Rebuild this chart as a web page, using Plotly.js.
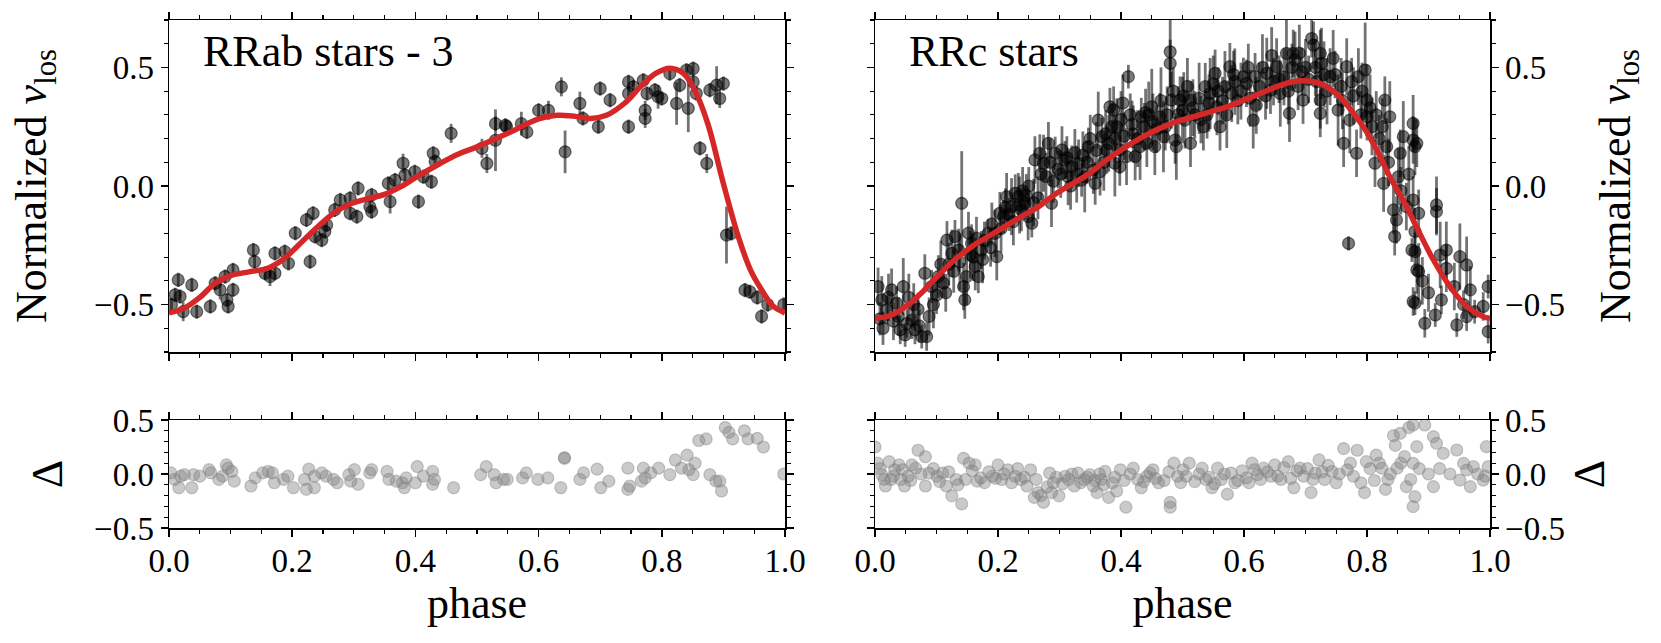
<!DOCTYPE html>
<html>
<head>
<meta charset="utf-8">
<script src="https://cdn.plot.ly/plotly-3.0.1.min.js"></script>
<style>html,body{margin:0;padding:0;background:#fff;}#chart{width:1661px;height:643px;}</style>
</head>
<body>
<div id="chart"></div>
<script>
// ---------- RRab stars - 3 : [phase, v_los, error] ----------
const rrabPoints = [
[0.004,-0.501,0.03],[0.010,-0.459,0.03],[0.015,-0.396,0.03],[0.018,-0.466,0.03],[0.023,-0.530,0.04],
[0.037,-0.417,0.03],[0.045,-0.530,0.03],[0.067,-0.508,0.03],[0.075,-0.410,0.03],[0.083,-0.438,0.04],
[0.091,-0.382,0.03],[0.094,-0.480,0.03],[0.096,-0.508,0.03],[0.104,-0.438,0.03],[0.104,-0.354,0.03],
[0.137,-0.270,0.03],[0.139,-0.319,0.03],[0.156,-0.368,0.03],[0.164,-0.382,0.04],[0.172,-0.368,0.03],
[0.172,-0.284,0.03],[0.188,-0.277,0.03],[0.194,-0.326,0.03],[0.205,-0.199,0.03],[0.223,-0.143,0.03],
[0.234,-0.115,0.03],[0.229,-0.319,0.03],[0.237,-0.213,0.03],[0.248,-0.228,0.03],[0.253,-0.192,0.03],
[0.256,-0.164,0.03],[0.269,-0.101,0.03],[0.278,-0.059,0.03],[0.294,-0.052,0.03],[0.294,-0.115,0.03],
[0.305,-0.129,0.03],[0.307,-0.010,0.03],[0.326,-0.087,0.03],[0.329,-0.038,0.03],[0.329,-0.108,0.03],
[0.356,0.011,0.03],[0.359,-0.066,0.05],[0.367,0.025,0.03],[0.380,0.096,0.04],[0.383,0.046,0.03],
[0.399,0.060,0.03],[0.405,-0.066,0.03],[0.413,0.039,0.03],[0.426,0.018,0.03],[0.429,0.138,0.03],
[0.432,0.103,0.03],[0.458,0.222,0.04],[0.508,0.159,0.04],[0.516,0.095,0.04],[0.530,0.193,0.13],
[0.530,0.263,0.03],[0.546,0.256,0.03],[0.548,0.250,0.03],[0.572,0.263,0.05],[0.581,0.228,0.03],
[0.600,0.319,0.03],[0.616,0.319,0.04],[0.637,0.418,0.04],[0.643,0.144,0.09],[0.667,0.348,0.05],
[0.672,0.285,0.03],[0.697,0.250,0.03],[0.700,0.411,0.03],[0.716,0.362,0.03],[0.746,0.439,0.03],
[0.746,0.250,0.03],[0.746,0.390,0.03],[0.754,0.418,0.03],[0.770,0.446,0.03],[0.773,0.319,0.04],
[0.773,0.285,0.04],[0.776,0.390,0.03],[0.789,0.404,0.03],[0.794,0.376,0.05],[0.800,0.369,0.03],
[0.813,0.474,0.03],[0.824,0.348,0.09],[0.829,0.425,0.03],[0.840,0.488,0.03],[0.843,0.327,0.10],
[0.851,0.495,0.03],[0.851,0.439,0.03],[0.856,0.390,0.03],[0.862,0.159,0.03],[0.873,0.095,0.04],
[0.878,0.404,0.03],[0.889,0.425,0.08],[0.894,0.369,0.04],[0.900,0.432,0.03],[0.905,-0.207,0.12],
[0.913,-0.200,0.03],[0.935,-0.439,0.03],[0.943,-0.446,0.03],[0.955,-0.470,0.03],[0.962,-0.550,0.03],
[0.972,-0.500,0.03],[0.998,-0.500,0.03]
];
// model curve [phase, v]
const rrabModel = [
[0,-0.535],[0.025,-0.515],[0.05,-0.47],[0.075,-0.41],[0.1,-0.378],[0.13,-0.362],[0.16,-0.347],
[0.185,-0.31],[0.21,-0.25],[0.24,-0.175],[0.27,-0.11],[0.295,-0.075],[0.32,-0.055],[0.35,-0.035],
[0.375,-0.005],[0.4,0.035],[0.44,0.095],[0.47,0.135],[0.5,0.165],[0.55,0.222],[0.6,0.283],
[0.63,0.298],[0.655,0.295],[0.685,0.285],[0.71,0.298],[0.74,0.35],[0.765,0.418],[0.79,0.475],
[0.813,0.497],[0.835,0.475],[0.855,0.395],[0.875,0.26],[0.9,0.01],[0.925,-0.22],[0.945,-0.36],
[0.965,-0.45],[0.98,-0.505],[1.0,-0.535]
];
// residuals [phase, delta]
const rrabResid = [
[0.003,0.01],[0.009,-0.05],[0.016,-0.127],[0.019,-0.02],[0.025,-0.006],[0.037,-0.127],[0.04,-0.006],
[0.05,-0.02],[0.065,0.04],[0.068,0.01],[0.081,-0.05],[0.087,-0.02],[0.093,0.084],[0.096,0.054],
[0.102,0.024],[0.106,-0.066],[0.133,-0.111],[0.14,-0.036],[0.152,0.01],[0.161,0.024],[0.168,0.01],
[0.171,-0.081],[0.186,-0.05],[0.193,-0.02],[0.202,-0.127],[0.22,-0.05],[0.223,-0.142],[0.227,0.045],
[0.236,-0.127],[0.236,-0.02],[0.248,0.01],[0.255,-0.02],[0.267,-0.05],[0.273,-0.081],[0.292,-0.006],
[0.295,-0.066],[0.301,0.04],[0.307,-0.096],[0.326,0.01],[0.329,0.04],[0.354,0.024],[0.357,-0.05],
[0.369,-0.066],[0.379,-0.081],[0.382,-0.127],[0.385,-0.036],[0.4,-0.081],[0.403,0.069],[0.413,-0.02],
[0.428,0.024],[0.428,-0.096],[0.431,-0.05],[0.462,-0.127],[0.506,-0.006],[0.515,0.069],[0.528,-0.006],
[0.531,-0.081],[0.543,-0.05],[0.549,-0.05],[0.574,-0.036],[0.58,0.01],[0.599,-0.05],[0.615,-0.036],
[0.636,-0.127],[0.642,0.151],[0.642,0.145],[0.667,-0.05],[0.673,0.01],[0.695,0.045],[0.701,-0.127],
[0.714,-0.066],[0.745,0.054],[0.745,-0.142],[0.748,-0.111],[0.767,-0.066],[0.77,0.054],[0.773,-0.036],
[0.782,0.01],[0.795,0.054],[0.813,-0.006],[0.822,0.13],[0.832,0.054],[0.841,0.175],[0.844,0.04],
[0.851,-0.006],[0.854,0.1],[0.86,0.31],[0.872,0.325],[0.878,-0.006],[0.888,-0.066],[0.894,-0.066],
[0.897,-0.157],[0.903,0.43],[0.909,0.386],[0.915,0.325],[0.934,0.4],[0.94,0.325],[0.955,0.33],
[0.965,0.25],[0.998,0.0]
];

// ---------- RRc stars : [phase, v_los, error] ----------
const rrcPoints = [
[0.005,-0.424,0.08],[0.011,-0.48,0.10],[0.019,-0.522,0.06],[0.027,-0.438,0.09],[0.035,-0.494,0.07],
[0.041,-0.607,0.06],[0.046,-0.424,0.12],[0.049,-0.628,0.05],[0.06,-0.565,0.08],[0.065,-0.607,0.06],
[0.076,-0.635,0.05],[0.084,-0.635,0.06],[0.081,-0.368,0.08],[0.092,-0.424,0.07],[0.103,-0.382,0.09],
[0.111,-0.41,0.06],[0.117,-0.228,0.08],[0.125,-0.284,0.10],[0.13,-0.213,0.07],[0.136,-0.27,0.09],
[0.141,-0.073,0.22],[0.144,-0.424,0.10],[0.146,-0.48,0.08],[0.149,-0.382,0.12],[0.152,-0.199,0.09],
[0.157,-0.242,0.08],[0.163,-0.34,0.10],[0.168,-0.382,0.07],[0.173,-0.27,0.08],[0.184,-0.199,0.06],
[0.198,-0.298,0.10],[0.203,-0.115,0.09],[0.209,-0.129,0.07],[0.214,-0.045,0.10],[0.222,-0.087,0.12],
[0.228,-0.031,0.08],[0.233,-0.045,0.10],[0.238,-0.101,0.09],[0.244,-0.073,0.07],[0.249,-0.129,0.10],
[0.255,-0.157,0.06],[0.26,0.11,0.10],[0.268,0.138,0.08],[0.274,0.096,0.12],[0.282,0.18,0.09],
[0.287,-0.073,0.10],[0.293,0.138,0.07],[0.304,0.152,0.10],[0.309,0.11,0.08],[0.314,0.039,0.12],
[0.32,0.081,0.09],[0.331,0.096,0.10],[0.336,0.025,0.07],[0.341,0.039,0.15],[0.347,0.166,0.08],
[0.355,0.067,0.10],[0.358,0.011,0.09],[0.363,0.278,0.12],[0.369,0.208,0.08],[0.377,0.152,0.10],
[0.382,0.334,0.08],[0.385,0.25,0.10],[0.39,0.096,0.14],
[0.008,-0.56,0.07],[0.03,-0.57,0.08],[0.055,-0.47,0.10],[0.07,-0.52,0.07],[0.10,-0.46,0.08],
[0.12,-0.33,0.09],[0.16,-0.30,0.10],[0.178,-0.23,0.08],[0.19,-0.16,0.09],[0.218,-0.12,0.07],
[0.24,-0.02,0.10],[0.25,0.0,0.08],[0.265,-0.05,0.09],[0.278,0.04,0.10],[0.298,0.07,0.08],
[0.325,0.14,0.10],[0.345,0.10,0.09],[0.372,0.10,0.12],
[0.013,-0.60,0.07],[0.022,-0.47,0.10],[0.038,-0.55,0.08],[0.052,-0.58,0.06],[0.063,-0.50,0.09],
[0.072,-0.59,0.07],[0.088,-0.55,0.08],[0.095,-0.50,0.10],
[0.107,-0.33,0.10],[0.115,-0.45,0.08],[0.128,-0.36,0.09],[0.138,-0.32,0.12],[0.155,-0.29,0.10],
[0.165,-0.22,0.09],[0.175,-0.31,0.10],[0.188,-0.26,0.08],[0.195,-0.20,0.10],
[0.205,-0.18,0.10],[0.212,-0.09,0.08],[0.225,-0.15,0.10],[0.235,-0.08,0.12],[0.246,-0.04,0.09],
[0.258,-0.07,0.10],[0.27,0.05,0.11],[0.285,0.10,0.10],[0.29,0.02,0.09],
[0.302,0.05,0.10],[0.312,0.12,0.09],[0.318,0.0,0.10],[0.328,0.05,0.12],[0.338,0.13,0.10],
[0.35,0.20,0.10],[0.36,0.15,0.12],[0.366,0.06,0.10],[0.375,0.22,0.10],[0.38,0.18,0.12],
[0.388,0.32,0.10],[0.393,0.25,0.12],[0.398,0.152,0.10],[0.398,0.081,0.08],[0.409,0.124,0.12],
[0.412,0.461,0.05],[0.423,0.124,0.10],[0.431,0.166,0.14],[0.433,0.292,0.08],[0.442,0.18,0.10],
[0.45,0.334,0.16],[0.455,0.166,0.12],[0.463,0.292,0.10],[0.469,0.208,0.15],[0.48,0.566,0.15],
[0.48,0.517,0.10],[0.482,0.362,0.12],[0.488,0.194,0.10],[0.49,0.166,0.14],[0.496,0.362,0.10],
[0.504,0.278,0.12],[0.513,0.18,0.10],[0.513,0.362,0.08],[0.534,0.25,0.10],[0.537,0.419,0.10],
[0.545,0.39,0.15],[0.553,0.475,0.10],[0.556,0.334,0.12],[0.561,0.25,0.10],[0.569,0.419,0.15],
[0.577,0.503,0.10],[0.58,0.39,0.12],[0.599,0.461,0.08],[0.604,0.433,0.10],[0.615,0.278,0.12],
[0.618,0.461,0.10],[0.637,0.475,0.15],[0.643,0.404,0.10],[0.653,0.503,0.12],[0.659,0.39,0.14],
[0.669,0.559,0.15],[0.674,0.306,0.12],[0.68,0.559,0.10],[0.683,0.531,0.12],[0.694,0.482,0.10],
[0.696,0.362,0.10],[0.71,0.622,0.08],[0.713,0.594,0.10],[0.724,0.559,0.10],[0.724,0.362,0.12],
[0.726,0.517,0.15],[0.724,0.306,0.10],[0.74,0.461,0.12],[0.745,0.538,0.12],[0.753,0.32,0.15],
[0.762,0.18,0.10],[0.767,0.503,0.12],[0.77,-0.242,0.03],[0.772,0.278,0.14],[0.783,0.138,0.10],
[0.786,0.461,0.12],[0.797,0.489,0.20],[0.80,0.362,0.15],[0.80,0.292,0.10],[0.813,0.096,0.10],
[0.827,0.011,0.12],[0.829,0.362,0.10],[0.832,0.166,0.12],[0.837,0.292,0.15],[0.843,-0.101,0.10],
[0.845,-0.213,0.08],[0.848,-0.143,0.10],[0.851,0.039,0.12],[0.854,0.138,0.10],[0.859,0.208,0.15],
[0.873,-0.27,0.05],[0.875,0.264,0.12],[0.875,-0.059,0.10],[0.878,-0.494,0.05],[0.881,-0.354,0.10],
[0.881,0.18,0.10],
[0.39,0.20,0.10],[0.40,0.28,0.12],[0.405,0.21,0.10],[0.415,0.30,0.09],[0.42,0.22,0.12],
[0.438,0.25,0.10],[0.445,0.30,0.14],[0.458,0.24,0.10],[0.475,0.30,0.12],[0.485,0.40,0.10],
[0.50,0.32,0.14],[0.508,0.42,0.12],[0.52,0.30,0.10],[0.527,0.37,0.15],[0.54,0.30,0.10],
[0.55,0.43,0.12],[0.565,0.36,0.10],[0.585,0.44,0.14],[0.59,0.36,0.10],[0.61,0.37,0.12],
[0.625,0.42,0.10],[0.63,0.50,0.14],[0.648,0.44,0.10],[0.665,0.46,0.12],[0.688,0.42,0.10],
[0.70,0.50,0.12],[0.718,0.44,0.10],[0.735,0.40,0.14],[0.758,0.42,0.12],[0.778,0.38,0.12],
[0.79,0.30,0.10],[0.808,0.25,0.12],[0.82,0.20,0.10],
[0.403,0.35,0.12],[0.418,0.26,0.10],[0.427,0.20,0.12],[0.44,0.31,0.10],[0.452,0.27,0.12],
[0.465,0.36,0.14],[0.472,0.25,0.10],[0.493,0.30,0.12],[0.502,0.38,0.10],[0.517,0.33,0.12],
[0.53,0.28,0.10],[0.543,0.35,0.12],[0.558,0.40,0.10],[0.572,0.30,0.14],[0.583,0.47,0.10],
[0.595,0.40,0.12],[0.607,0.50,0.10],[0.62,0.34,0.12],[0.635,0.38,0.10],[0.645,0.55,0.12],
[0.657,0.45,0.10],[0.672,0.40,0.14],[0.678,0.50,0.10],[0.69,0.56,0.12],[0.705,0.45,0.10],
[0.716,0.50,0.12],[0.73,0.47,0.14],[0.748,0.47,0.10],[0.76,0.36,0.12],[0.775,0.44,0.10],
[0.792,0.40,0.12],[0.805,0.33,0.14],[0.815,0.30,0.10],[0.825,0.25,0.12],
[0.835,0.10,0.10],[0.855,-0.02,0.10],[0.868,0.05,0.12],[0.89,-0.40,0.10],[0.90,-0.45,0.08],
[0.864,-0.087,0.10],[0.875,0.194,0.10],[0.878,0.166,0.12],[0.878,-0.192,0.10],[0.878,-0.277,0.08],
[0.884,-0.361,0.12],[0.884,-0.115,0.10],[0.875,-0.487,0.06],[0.894,-0.579,0.06],[0.911,-0.544,0.05],
[0.913,-0.08,0.12],[0.913,-0.108,0.10],[0.919,-0.291,0.14],[0.921,-0.48,0.06],[0.929,-0.27,0.12],
[0.929,-0.347,0.10],[0.942,-0.424,0.10],[0.946,-0.586,0.05],[0.951,-0.298,0.14],[0.962,-0.333,0.12],
[0.968,-0.438,0.10],[0.962,-0.551,0.06],[0.989,-0.508,0.06],[0.997,-0.424,0.05],[0.997,-0.614,0.05],
[0.957,-0.50,0.06],[0.975,-0.53,0.05]
];
const rrcModel = [
[0,-0.558],[0.027,-0.544],[0.05,-0.508],[0.075,-0.452],[0.1,-0.385],[0.13,-0.31],[0.157,-0.256],
[0.184,-0.213],[0.211,-0.171],[0.238,-0.129],[0.266,-0.087],[0.293,-0.035],[0.32,0.008],[0.347,0.05],
[0.374,0.105],[0.4,0.152],[0.436,0.208],[0.463,0.243],[0.49,0.271],[0.518,0.292],[0.545,0.313],
[0.572,0.334],[0.6,0.362],[0.626,0.39],[0.653,0.419],[0.68,0.44],[0.7,0.444],[0.723,0.433],
[0.75,0.39],[0.772,0.327],[0.794,0.25],[0.816,0.152],[0.837,0.039],[0.86,-0.065],[0.881,-0.175],
[0.908,-0.312],[0.935,-0.424],[0.962,-0.508],[0.989,-0.551],[1.0,-0.558]
];
const rrcResid = [
[0.0,0.25],[0.004,0.1],[0.011,-0.006],[0.017,-0.111],[0.023,0.114],[0.026,-0.051],[0.032,0.039],
[0.039,0.084],[0.042,-0.051],[0.048,-0.111],[0.054,-0.021],[0.06,0.084],[0.066,0.054],[0.07,0.22],
[0.082,0.16],[0.082,-0.111],[0.088,0.009],[0.101,-0.021],[0.11,0.009],[0.116,-0.111],[0.125,-0.202],
[0.132,-0.051],[0.141,-0.277],[0.144,0.145],[0.147,-0.051],[0.153,0.1],[0.163,0.084],[0.166,-0.066],
[0.172,-0.036],[0.191,-0.021],[0.2,0.084],[0.206,-0.051],[0.216,0.039],[0.222,-0.081],[0.228,-0.021],
[0.237,-0.051],[0.247,-0.111],[0.253,0.039],[0.259,-0.217],[0.265,-0.172],[0.274,-0.262],[0.284,0.009],
[0.287,-0.172],[0.29,-0.081],[0.299,-0.202],[0.309,-0.021],[0.315,-0.051],[0.324,-0.111],[0.33,0.009],
[0.34,-0.051],[0.349,-0.006],[0.355,-0.111],[0.361,-0.172],[0.368,-0.051],[0.374,0.024],[0.38,-0.217],
[0.386,-0.081],[0.393,-0.157],[0.399,0.039],[0.408,-0.307],[0.42,0.054],[0.427,-0.051],[0.433,-0.127],
[0.442,-0.021],[0.452,0.039],[0.461,-0.081],[0.48,-0.262],[0.48,-0.307],[0.486,0.1],[0.492,-0.021],
[0.501,0.039],[0.511,0.1],[0.532,0.054],[0.538,-0.051],[0.548,-0.127],[0.557,0.054],[0.563,-0.051],
[0.573,-0.187],[0.579,0.009],[0.585,-0.081],[0.604,-0.036],[0.613,0.1],[0.622,-0.006],[0.632,0.054],
[0.644,-0.021],[0.65,0.084],[0.66,-0.051],[0.672,0.114],[0.681,-0.127],[0.691,0.054],[0.697,-0.021],
[0.709,-0.172],[0.716,0.009],[0.722,0.13],[0.731,-0.051],[0.743,0.024],[0.75,-0.081],[0.762,0.235],
[0.768,0.039],[0.778,-0.021],[0.784,0.22],[0.79,-0.081],[0.796,-0.172],[0.799,0.114],[0.815,0.175],
[0.824,0.054],[0.83,-0.142],[0.834,-0.051],[0.843,0.355],[0.846,0.265],[0.849,0.054],[0.861,0.16],
[0.868,0.43],[0.871,-0.051],
[0.854,0.377],[0.875,0.454],[0.894,0.454],[0.881,0.253],[0.875,0.099],[0.908,0.346],[0.913,0.284],
[0.924,0.191],[0.946,0.222],[0.957,0.099],[0.962,0.037],[0.973,0.068],[0.951,-0.056],[0.994,0.253],
[0.997,0.068],[0.864,-0.117],[0.878,-0.21],[0.875,-0.302],[0.908,-0.117],[0.968,-0.117],[0.989,-0.056],
[0.008,0.05],[0.015,-0.05],[0.03,-0.02],[0.045,0.04],[0.058,-0.06],[0.075,0.0],[0.095,0.05],
[0.105,-0.07],[0.12,0.02],[0.135,-0.1],[0.158,0.03],[0.178,-0.08],[0.185,0.02],[0.196,-0.04],
[0.21,0.0],[0.232,0.05],[0.243,-0.03],[0.262,-0.05],[0.27,-0.2],[0.28,-0.12],[0.295,-0.03],
[0.305,-0.09],[0.32,0.0],[0.335,-0.08],[0.345,-0.03],[0.358,-0.06],[0.365,0.0],[0.372,-0.1],
[0.39,-0.03],[0.405,-0.06],[0.415,0.0],[0.437,-0.07],[0.447,0.01],[0.456,-0.04],[0.47,-0.06],
[0.478,0.02],[0.497,-0.08],[0.506,-0.02],[0.52,-0.07],[0.527,0.0],[0.543,-0.03],[0.552,-0.09],
[0.568,0.0],[0.59,-0.06],[0.597,0.03],[0.608,-0.08],[0.617,0.04],[0.627,-0.05],[0.638,0.02],
[0.655,-0.02],[0.665,0.06],[0.676,-0.04],[0.686,0.03],[0.703,0.05],[0.712,-0.05],[0.727,0.02],
[0.737,0.08],[0.755,0.0],[0.773,0.1],[0.805,0.05],[0.812,-0.06],[0.82,0.1],[0.838,0.0],
[0.855,0.1],[0.885,0.05],[0.9,0.0],[0.918,0.05],[0.935,0.0],[0.98,0.0],[0.992,-0.02]
];

// ---------- texts ----------
const panelTitles = ['RRab stars - 3', 'RRc stars'];
const yTitleTop = 'Normalized <i>v</i><sub>los</sub>';
const yTitleBottom = 'Δ';
const xTitle = 'phase';

// ---------- pick an installed serif face ----------
function pickFont(cands) {
  const c = document.createElement('canvas').getContext('2d');
  const probe = 'RRab stars phase 0123456789 Normalized';
  for (const f of cands) {
    let differs = false;
    for (const base of ['monospace', 'sans-serif']) {
      c.font = '40px ' + base; const w0 = c.measureText(probe).width;
      c.font = '40px "' + f + '", ' + base; const w1 = c.measureText(probe).width;
      if (Math.abs(w1 - w0) > 0.5) differs = true; else { differs = false; break; }
    }
    if (differs) return f;
  }
  return 'serif';
}
const FONT = pickFont(['Liberation Serif', 'DejaVu Serif', 'Noto Serif', 'Times New Roman', 'Tinos']);

const ptColor = 'rgba(0,0,0,0.52)';
const errColor = 'rgba(0,0,0,0.55)';
const resColor = 'rgba(128,128,128,0.42)';
const curveColor = '#d62728';

function dataTrace(pts, xa, ya) {
  return {
    type: 'scatter', mode: 'markers', xaxis: xa, yaxis: ya,
    x: pts.map(p => p[0]), y: pts.map(p => p[1]),
    error_y: {type: 'data', array: pts.map(p => p[2]), visible: true, color: errColor, thickness: 2.8, width: 0},
    marker: {size: 12, color: ptColor, line: {color: ptColor, width: 1.2}},
    hoverinfo: 'skip'
  };
}
function modelTrace(m, xa, ya) {
  return {
    type: 'scatter', mode: 'lines', xaxis: xa, yaxis: ya,
    x: m.map(p => p[0]), y: m.map(p => p[1]),
    line: {color: curveColor, width: 5.5, shape: 'spline', smoothing: 1},
    hoverinfo: 'skip'
  };
}
function resTrace(r, xa, ya) {
  return {
    type: 'scatter', mode: 'markers', xaxis: xa, yaxis: ya,
    x: r.map(p => p[0]), y: r.map(p => p[1]),
    marker: {size: 12, color: resColor, line: {color: resColor, width: 1.2}},
    hoverinfo: 'skip'
  };
}

const traces = [
  dataTrace(rrabPoints, 'x', 'y'), modelTrace(rrabModel, 'x', 'y'),
  dataTrace(rrcPoints, 'x2', 'y2'), modelTrace(rrcModel, 'x2', 'y2'),
  resTrace(rrabResid, 'x3', 'y3'), resTrace(rrcResid, 'x4', 'y4')
];

const W = 1661, H = 643;
const leftDom = [169 / W, 785 / W];
const rightDom = [875 / W, 1490 / W];
const topDom = [(H - 352) / H, (H - 20) / H];
const botDom = [(H - 528) / H, (H - 420) / H];

const tickFont = {family: FONT, size: 33, color: '#000'};
const titleFont = {family: FONT, size: 44, color: '#000'};

function xAxis(dom, anchor, labels) {
  const ax = {
    domain: dom, anchor: anchor, range: [0, 1], autorange: false,
    dtick: 0.2, tick0: 0, tickformat: '.1f', ticks: 'outside', ticklen: 7, tickwidth: 1.5, tickcolor: '#000',
    minor: {dtick: 0.05, tick0: 0, ticks: 'outside', ticklen: 4, tickwidth: 1.1, tickcolor: '#000'},
    showline: true, linecolor: '#000', linewidth: 1.5, mirror: 'ticks',
    showgrid: false, zeroline: false, showticklabels: labels,
    tickfont: tickFont
  };
  if (labels) { ax.title = {text: xTitle, font: titleFont, standoff: 4}; ax.ticklabelstandoff = -4; }
  return ax;
}
function yAxis(dom, anchor, range, side, title, standoff) {
  return {
    domain: dom, anchor: anchor, range: range, autorange: false, side: side,
    dtick: 0.5, tick0: 0, tickformat: '.1f', ticks: 'outside', ticklen: 7, tickwidth: 1.5, tickcolor: '#000',
    minor: {dtick: 0.1, tick0: 0, ticks: 'outside', ticklen: 4, tickwidth: 1.1, tickcolor: '#000'},
    showline: true, linecolor: '#000', linewidth: 1.5, mirror: 'ticks',
    showgrid: false, zeroline: false, showticklabels: true,
    tickfont: tickFont,
    title: {text: title, font: titleFont, standoff: standoff}
  };
}

const layout = {
  width: W, height: H,
  margin: {l: 0, r: 0, t: 0, b: 0, pad: 0},
  paper_bgcolor: '#fff', plot_bgcolor: '#fff',
  showlegend: false,
  font: {family: FONT, color: '#000'},
  xaxis: xAxis(leftDom, 'y', false),
  yaxis: yAxis(topDom, 'x', [-0.7, 0.7], 'left', yTitleTop, 33),
  xaxis2: xAxis(rightDom, 'y2', false),
  yaxis2: yAxis(topDom, 'x2', [-0.7, 0.7], 'right', yTitleTop, 35),
  xaxis3: xAxis(leftDom, 'y3', true),
  yaxis3: yAxis(botDom, 'x3', [-0.5, 0.5], 'left', yTitleBottom, 17),
  xaxis4: xAxis(rightDom, 'y4', true),
  yaxis4: yAxis(botDom, 'x4', [-0.5, 0.5], 'right', yTitleBottom, 9),
  annotations: [
    {xref: 'x domain', yref: 'y domain', x: 0.052, y: 0.905, xanchor: 'left', yanchor: 'middle',
     text: panelTitles[0], showarrow: false, font: titleFont},
    {xref: 'x2 domain', yref: 'y2 domain', x: 0.052, y: 0.905, xanchor: 'left', yanchor: 'middle',
     text: panelTitles[1], showarrow: false, font: titleFont}
  ]
};

Plotly.newPlot('chart', traces, layout, {staticPlot: true, displayModeBar: false});
</script>
</body>
</html>
